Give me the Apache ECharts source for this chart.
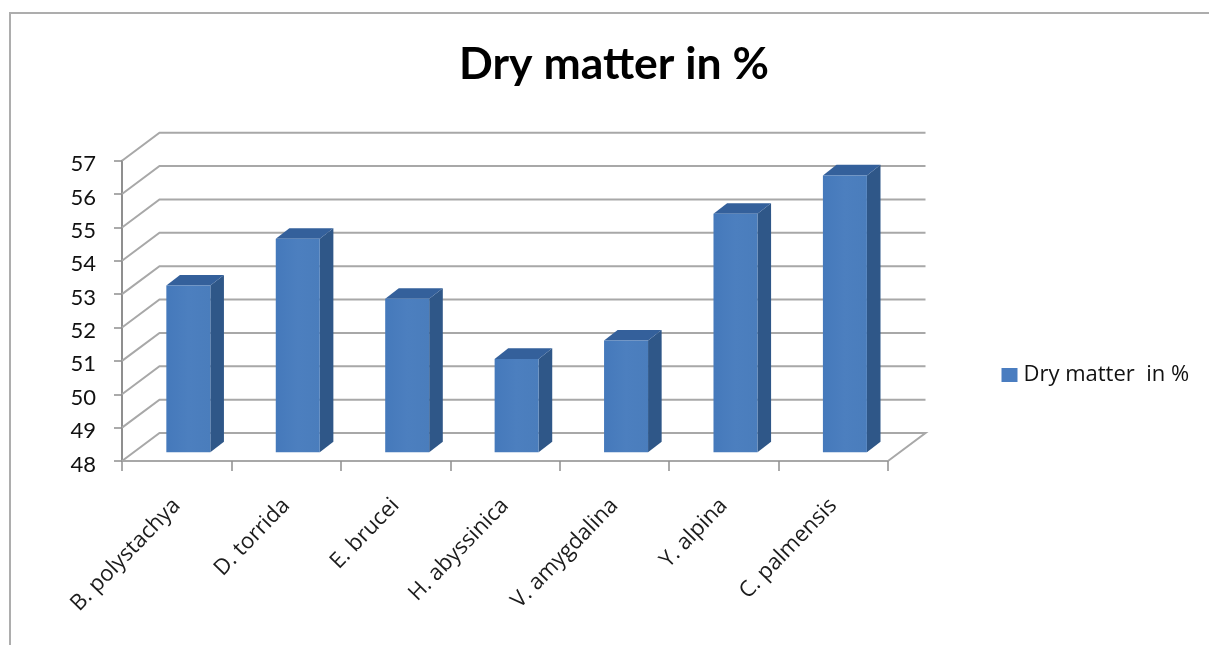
<!DOCTYPE html>
<html>
<head>
<meta charset="utf-8">
<style>
  html, body { margin: 0; padding: 0; background: #ffffff; }
  #chart { width: 1209px; height: 645px; }
</style>
<script src="https://cdn.jsdelivr.net/npm/echarts@6/dist/echarts.min.js"></script>
</head>
<body>
<div id="chart"></div>
<script>
// Dry matter content per species
const categories = ['B. polystachya', 'D. torrida', 'E. brucei', 'H. abyssinica', 'V. amygdalina', 'Y. alpina', 'C. palmensis'];
const dryMatter = [53.0, 54.4, 52.6, 50.8, 51.35, 55.15, 56.3];
const valueTicks = [48, 49, 50, 51, 52, 53, 54, 55, 56, 57];
const chartTitle = 'Dry matter in %';
const seriesName = 'Dry matter  in %';

const FLOOR = 48;
// Oblique projection: how far the back wall sits from the front plane, in pixels
const WALL = { dx: 37.5, dy: -28 };
// Bars stand partway into the depth and have their own shallow depth
const BAR_PLANE = 0.31;
const BAR_DEPTH = { dx: 13.6, dy: -10.6 };
const BAR_WIDTH = 44;

const chart = echarts.init(document.getElementById('chart'), null, { renderer: 'canvas' });

function poly(points, fill) {
  return { type: 'polygon', shape: { points }, style: { fill }, silent: true };
}

// Floor edge and gridlines: diagonal from the axis to the wall, then along the wall
function renderWall(params, api) {
  const v = api.value(0);
  const left = api.coord([0, v]);
  const width = params.coordSys.width;
  const x0 = params.coordSys.x;
  const y = left[1];
  const bx = x0 + WALL.dx, by = y + WALL.dy;
  const pts = [[x0, y], [bx, by], [x0 + width + WALL.dx, by]];
  if (v === FLOOR) pts.push([x0 + width, y]);
  return {
    type: 'polyline',
    shape: { points: pts },
    style: { fill: null, stroke: '#a8a8a8', lineWidth: 2 },
    silent: true
  };
}

// One bar: side, top and front faces
function renderBar(params, api) {
  const idx = api.value(0);
  const base = api.coord([idx, FLOOR]);
  const top = api.coord([idx, api.value(1)]);
  const ox = WALL.dx * BAR_PLANE, oy = WALL.dy * BAR_PLANE;
  const xl = base[0] + ox - BAR_WIDTH / 2, xr = xl + BAR_WIDTH;
  const yb = base[1] + oy, yt = top[1] + oy;
  const d = BAR_DEPTH;
  return {
    type: 'group',
    children: [
      poly([[xr, yb], [xr + d.dx, yb + d.dy], [xr + d.dx, yt + d.dy], [xr, yt]], '#2f5788'),
      poly([[xl, yt], [xl + d.dx, yt + d.dy], [xr + d.dx, yt + d.dy], [xr, yt]], '#34609b'),
      {
        type: 'rect',
        shape: { x: xl, y: yt, width: BAR_WIDTH, height: yb - yt },
        style: {
          fill: new echarts.graphic.LinearGradient(0, 0, 1, 0, [
            { offset: 0, color: '#4579bb' },
            { offset: 0.5, color: '#4c7fbf' },
            { offset: 1, color: '#4a7dbc' }
          ])
        },
        silent: true
      }
    ]
  };
}

chart.setOption({
  animation: false,
  backgroundColor: '#ffffff',
  textStyle: { fontFamily: 'Open Sans' },
  title: {
    text: chartTitle,
    left: 609,
    top: 37,
    textAlign: 'center',
    textStyle: { fontFamily: 'Lato', fontSize: 44.5, fontWeight: 'bold', color: '#000000' }
  },
  legend: {
    left: 996.5,
    top: 359,
    itemWidth: 16,
    itemHeight: 14,
    itemGap: 0,
    icon: 'rect',
    data: [{ name: seriesName, itemStyle: { color: '#4a7dc0' } }],
    textStyle: { fontFamily: 'Open Sans', fontSize: 22, color: '#111111', padding: [0, 0, 0, 1] }
  },
  grid: { left: 122, right: 321, top: 160.7, bottom: 184, containLabel: false },
  xAxis: {
    type: 'category',
    data: categories,
    boundaryGap: true,
    axisLine: { lineStyle: { color: '#a8a8a8', width: 2 } },
    axisTick: { show: true, alignWithLabel: false, length: 10, lineStyle: { color: '#8f8f8f', width: 1.5 } },
    axisLabel: { rotate: 46, color: '#1c1c1c', fontSize: 22, margin: 41, interval: 0, fontFamily: 'Open Sans' }
  },
  yAxis: {
    type: 'value',
    min: FLOOR,
    max: 57,
    interval: 1,
    axisLine: { show: true, lineStyle: { color: '#8f8f8f', width: 2 } },
    axisTick: { show: true, length: 8, lineStyle: { color: '#8f8f8f', width: 1.5 } },
    splitLine: { show: false },
    axisLabel: {
      margin: 26,
      formatter: '{v|{value}}',
      // The extra space above the digits sets them slightly below their tick
      rich: { v: { color: '#111111', fontSize: 22, fontFamily: 'Lato', padding: [7, 0, 0, 0] } }
    }
  },
  graphic: [
    // Chart-area frame: top and left edges run on past the visible bottom
    {
      type: 'polyline',
      silent: true,
      shape: { points: [[10, 645], [10, 13], [1209, 13]] },
      style: { fill: null, stroke: '#adadad', lineWidth: 2 }
    }
  ],
  series: [
    {
      type: 'custom',
      name: 'wall',
      renderItem: renderWall,
      data: valueTicks.map(v => [v]),
      encode: { y: 0 },
      z: 1,
      silent: true,
      tooltip: { show: false }
    },
    {
      type: 'custom',
      name: seriesName,
      renderItem: renderBar,
      data: dryMatter.map((v, i) => [i, v]),
      encode: { x: 0, y: 1 },
      itemStyle: { color: '#4a7dc0' },
      z: 3
    }
  ]
});
</script>
</body>
</html>
